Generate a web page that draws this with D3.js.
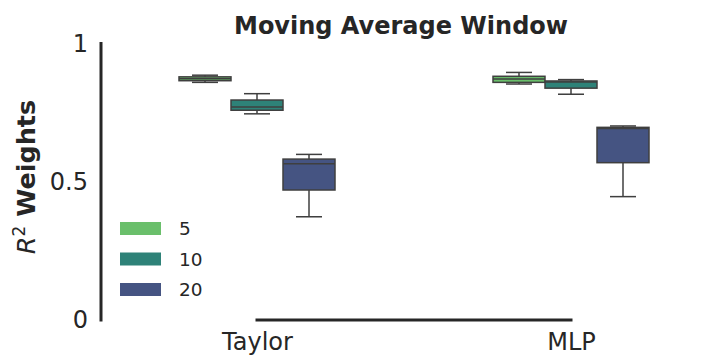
<!DOCTYPE html>
<html>
<head>
<meta charset="utf-8">
<script src="https://cdn.jsdelivr.net/npm/d3@7"></script>
<style>
  html, body { margin: 0; padding: 0; background: #fff; }
  text { font-family: "DejaVu Sans", sans-serif; fill: #262626; }
</style>
</head>
<body>
<svg id="chart" width="709" height="356"></svg>
<script>
// Models on the x axis and moving-average window sizes (hue)
const models = ["Taylor", "MLP"];
const windows = ["5", "10", "20"];
const windowColors = ["#6abf6b", "#2e8278", "#455482"];

// Box statistics per window: [whisker low, q1, median, q3, whisker high]
const taylorStats = [
  [0.861, 0.867, 0.874, 0.881, 0.887],
  [0.747, 0.760, 0.772, 0.797, 0.820],
  [0.374, 0.471, 0.566, 0.583, 0.600]
];
const mlpStats = [
  [0.855, 0.861, 0.873, 0.883, 0.897],
  [0.818, 0.840, 0.862, 0.866, 0.871],
  [0.447, 0.570, 0.694, 0.698, 0.703]
];
const yTicks = [0, 0.5, 1];
const yTickLabels = ["0", "0.5", "1"];

const statsByModel = { Taylor: taylorStats, MLP: mlpStats };

const svg = d3.select("#chart");
const ink = "#262626";
const boxLine = "#3f3f3f";

const y = d3.scaleLinear().domain([0, 1]).range([320, 44]);
const x = d3.scalePoint().domain(models).range([257, 571]);
const hue = d3.scaleBand().domain(windows).range([-78, 78]);
const color = d3.scaleOrdinal().domain(windows).range(windowColors);

// Title
svg.append("text")
  .attr("x", 401).attr("y", 34)
  .attr("text-anchor", "middle")
  .style("font-size", "24px").style("font-weight", "bold")
  .text("Moving Average Window");

// Y axis (trimmed spine, no tick marks)
const yAxis = d3.axisLeft(y).tickValues(yTicks)
  .tickFormat((d, i) => yTickLabels[i]).tickSize(0).tickPadding(13);
const gy = svg.append("g").attr("transform", "translate(101,0)").call(yAxis);
gy.select(".domain").remove();
gy.selectAll("text").style("font-size", "24px").style("fill", ink)
  .attr("font-family", "DejaVu Sans");
svg.append("line")
  .attr("x1", 101).attr("x2", 101)
  .attr("y1", y(1) - 2).attr("y2", y(0) + 1.5)
  .attr("stroke", ink).attr("stroke-width", 3);

// X axis (spine trimmed to the category centres)
const xAxis = d3.axisBottom(x).tickSize(0).tickPadding(13);
const gx = svg.append("g").attr("transform", `translate(0,${y(0)})`).call(xAxis);
gx.select(".domain").remove();
gx.selectAll("text").style("font-size", "24px").style("fill", ink)
  .attr("font-family", "DejaVu Sans");
svg.append("line")
  .attr("x1", x("Taylor") - 1.5).attr("x2", x("MLP") + 1.5)
  .attr("y1", y(0)).attr("y2", y(0))
  .attr("stroke", ink).attr("stroke-width", 3);

// Y axis label: italic R with superscript 2, bold "Weights"
const ylab = svg.append("text")
  .attr("transform", "translate(35,177) rotate(-90)")
  .attr("text-anchor", "middle")
  .style("font-size", "25.5px");
ylab.append("tspan").style("font-style", "italic").text("R");
ylab.append("tspan").attr("dy", -10).style("font-size", "17px").text("2");
ylab.append("tspan").attr("dy", 10).style("font-weight", "bold").text(" Weights");

// Boxes
const boxes = [];
models.forEach(m => {
  statsByModel[m].forEach((s, i) => {
    boxes.push({ model: m, win: windows[i], s });
  });
});

const bw = hue.bandwidth();
const g = svg.selectAll("g.box").data(boxes).join("g").attr("class", "box")
  .attr("transform", d => `translate(${x(d.model) + hue(d.win)},0)`);

// whiskers
g.append("line")
  .attr("x1", bw / 2).attr("x2", bw / 2)
  .attr("y1", d => y(d.s[4])).attr("y2", d => y(d.s[3]))
  .attr("stroke", boxLine).attr("stroke-width", 1.5);
g.append("line")
  .attr("x1", bw / 2).attr("x2", bw / 2)
  .attr("y1", d => y(d.s[1])).attr("y2", d => y(d.s[0]))
  .attr("stroke", boxLine).attr("stroke-width", 1.5);
// caps
[0, 4].forEach(k => {
  g.append("line")
    .attr("x1", bw / 4).attr("x2", bw * 3 / 4)
    .attr("y1", d => y(d.s[k])).attr("y2", d => y(d.s[k]))
    .attr("stroke", boxLine).attr("stroke-width", 1.5);
});
// box body
g.append("rect")
  .attr("x", 0).attr("width", bw)
  .attr("y", d => y(d.s[3]))
  .attr("height", d => y(d.s[1]) - y(d.s[3]))
  .attr("fill", d => color(d.win))
  .attr("stroke", boxLine).attr("stroke-width", 1.5);
// median
g.append("line")
  .attr("x1", 0).attr("x2", bw)
  .attr("y1", d => y(d.s[2])).attr("y2", d => y(d.s[2]))
  .attr("stroke", boxLine).attr("stroke-width", 1.5);

// Legend
const legend = svg.append("g").attr("transform", "translate(120,222)");
const li = legend.selectAll("g").data(windows).join("g")
  .attr("transform", (d, i) => `translate(0,${i * 30.5})`);
li.append("rect").attr("width", 41).attr("height", 13)
  .attr("fill", d => color(d));
li.append("text").attr("x", 59).attr("y", 6.5)
  .attr("dominant-baseline", "central")
  .style("font-size", "18.5px").text(d => d);
</script>
</body>
</html>
